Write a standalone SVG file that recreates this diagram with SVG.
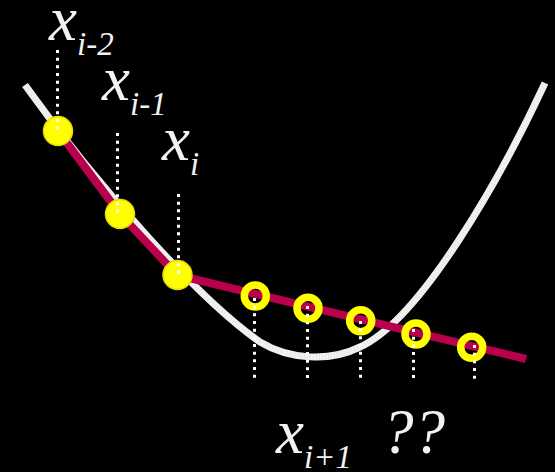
<svg xmlns="http://www.w3.org/2000/svg" width="555" height="472" viewBox="0 0 555 472">
<style>
.lbl{font-family:"Liberation Serif","Times New Roman",serif;font-style:italic;fill:#f2f2f2}
.big{font-size:63px}
.sub{font-size:33px}
.dot{stroke:#fff;stroke-width:3;stroke-dasharray:3 4.67;fill:none}
.pt{fill:#ffff00;stroke:#e6dc00;stroke-width:1.5}
.ring{fill:none;stroke:#ffff00;stroke-width:7.5}
</style>
<rect width="555" height="472" fill="#000"/>
<g id="curve">
<path d="M25,85 C100,190 200,300 260,342 C290,360 330,362 360,347 C420,320 500,180 545,83" fill="none" stroke="#f4f4f4" stroke-width="7"/>
<path d="M25,85 C100,190 200,300 260,342 C290,360 330,362 360,347 C420,320 500,180 545,83" fill="none" stroke="#c8c8c8" stroke-width="7" stroke-dasharray="1 2" opacity="0.35"/>
</g>
<g id="connectors">
<polyline points="58,131 120,214 177,275 526,359" fill="none" stroke="#b8004c" stroke-width="8" stroke-linejoin="round"/>
</g>
<g id="x_i-2"><circle class="pt" cx="58" cy="131" r="14.5"/></g>
<g id="x_i-1"><circle class="pt" cx="120" cy="214" r="14.5"/></g>
<g id="x_i"><circle class="pt" cx="177.5" cy="275" r="14.5"/></g>
<g id="r1"><circle class="ring" cx="255.3" cy="296" r="11"/></g>
<g id="r2"><circle class="ring" cx="308" cy="308.3" r="11"/></g>
<g id="r3"><circle class="ring" cx="360.7" cy="320.7" r="11"/></g>
<g id="r4"><circle class="ring" cx="416" cy="334" r="11"/></g>
<g id="r5"><circle class="ring" cx="471.7" cy="347.3" r="11"/></g>
<g id="dots">
<line class="dot" x1="57.5" y1="50" x2="57.5" y2="132"/>
<line class="dot" x1="117.5" y1="133" x2="117.5" y2="214"/>
<line class="dot" x1="178.5" y1="194" x2="178.5" y2="276"/>
<line class="dot" x1="254.5" y1="298" x2="254.5" y2="381"/>
<line class="dot" x1="307.5" y1="306" x2="307.5" y2="381"/>
<line class="dot" x1="360.5" y1="321" x2="360.5" y2="381"/>
<line class="dot" x1="413.5" y1="329" x2="413.5" y2="381"/>
<line class="dot" x1="474.5" y1="345" x2="474.5" y2="381"/>
</g>
<g id="labels">
<text class="lbl" x="49" y="40"><tspan class="big">x</tspan><tspan class="sub" dy="15">i-2</tspan></text>
<text class="lbl" x="102" y="100"><tspan class="big">x</tspan><tspan class="sub" dy="15">i-1</tspan></text>
<text class="lbl" x="162" y="160"><tspan class="big">x</tspan><tspan class="sub" dy="15">i</tspan></text>
<text class="lbl" x="276" y="453"><tspan class="big">x</tspan><tspan class="sub" dy="15">i+1</tspan></text>
<text class="lbl big" x="382" y="453">??</text>
</g>
</svg>
